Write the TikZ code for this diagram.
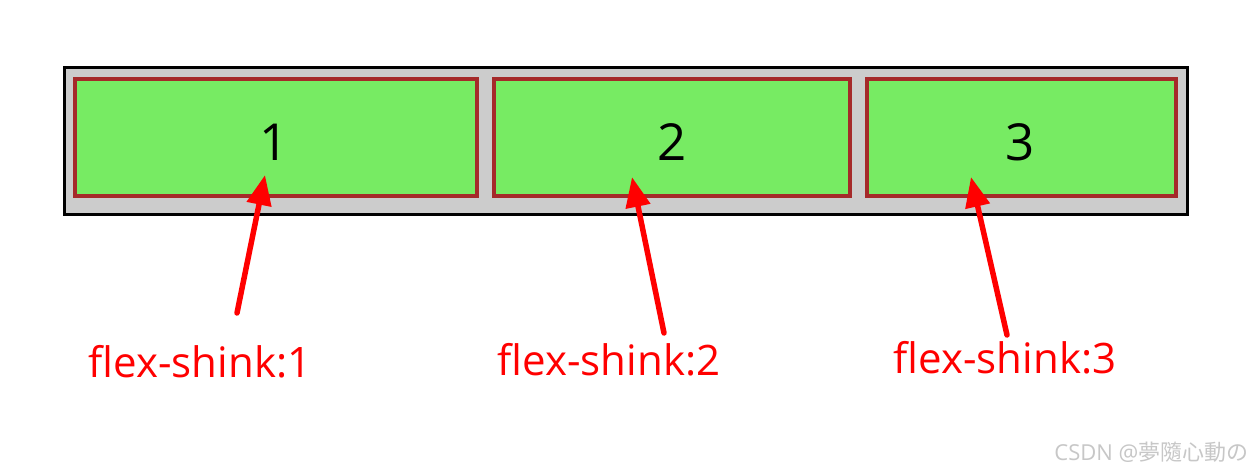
\documentclass[tikz,border=0pt]{standalone}
\usepackage{fontspec}
\setmainfont{Open Sans}
\newfontfamily\cjkfont{Noto Sans CJK TC}
\usetikzlibrary{arrows.meta}
\definecolor{itemgreen}{HTML}{77EB63}
\definecolor{itemborder}{HTML}{A52A2A}
\definecolor{boxgray}{HTML}{CCCCCC}
\definecolor{arrowred}{HTML}{FF0000}
\begin{document}
\begin{tikzpicture}[x=1pt,y=-1pt,
  container/.style={draw=black,line width=3pt,fill=boxgray},
  item/.style={draw=itemborder,line width=3.2pt,fill=itemgreen},
  num/.style={font=\fontsize{51}{56}\selectfont,text=black},
  lbl/.style={font=\fontsize{42}{48}\selectfont,text=arrowred},
  pointer/.style={draw=arrowred,line width=5.5pt,line cap=round,-{Triangle[length=30pt,width=24pt]}}]
\useasboundingbox (0,0) rectangle (1259,473);
\fill[white] (0,0) rectangle (1259,473);
% container
\path[container] (64,68) rectangle (1187,215);
% items
\path[item] (75,79) rectangle (477,196);
\path[item] (494,79) rectangle (850,196);
\path[item] (867,79) rectangle (1176,196);
\node[num] (n1) at (274,142) {1};
\node[num] (n2) at (672,142) {2};
\node[num] (n3) at (1020,142) {3};
% labels
\node[lbl] (l1) at (200,362) {flex-shink:1};
\node[lbl] (l2) at (609,360) {flex-shink:2};
\node[lbl] (l3) at (1005,358) {flex-shink:3};
% arrows
\coordinate (s1) at (237,313);
\coordinate (t1) at (265,175);
\coordinate (s2) at (664,333);
\coordinate (t2) at (632,177);
\coordinate (s3) at (1007,335);
\coordinate (t3) at (971,177);
\draw[pointer] (s1) -- (t1);
\draw[pointer] (s2) -- (t2);
\draw[pointer] (s3) -- (t3);
% watermark
\node[anchor=east,text=black!22,font=\fontsize{22}{26}\selectfont] (wm) at (1252,452) {CSDN @{\cjkfont 夢隨心動の}};
\end{tikzpicture}
\end{document}
